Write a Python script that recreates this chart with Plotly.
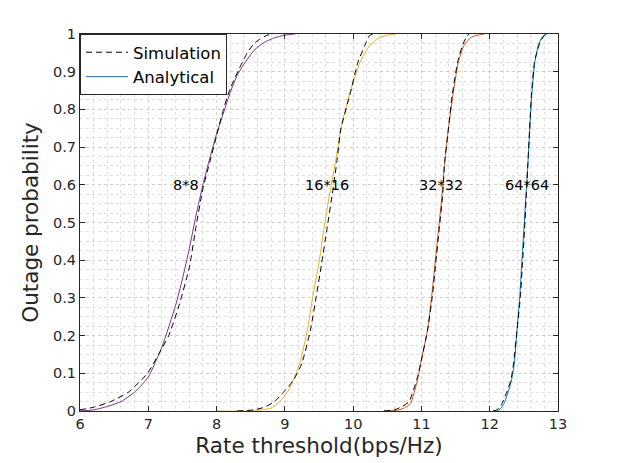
import plotly.graph_objects as go

# 8*8
ana8_x = [6.0, 6.2, 6.4, 6.6, 6.8, 7.0, 7.2, 7.4, 7.5, 7.6, 7.7, 7.8, 7.9, 8.0, 8.1, 8.2, 8.3, 8.4, 8.55, 8.7, 8.85, 9.0, 9.15]
ana8_y = [0.0, 0.003, 0.012, 0.025, 0.05, 0.09, 0.17, 0.28, 0.35, 0.43, 0.52, 0.6, 0.67, 0.735, 0.79, 0.845, 0.89, 0.92, 0.957, 0.978, 0.99, 0.997, 1.0]
sim8_x = [6.0, 6.2, 6.45, 6.71, 6.99, 7.15, 7.3, 7.45, 7.6, 7.7, 7.8, 7.9, 8.0, 8.1, 8.2, 8.35, 8.45, 8.55, 8.64, 8.72, 8.8]
sim8_y = [0.003, 0.01, 0.025, 0.05, 0.10, 0.15, 0.20, 0.28, 0.38, 0.49, 0.59, 0.66, 0.73, 0.80, 0.855, 0.915, 0.95, 0.975, 0.987, 0.995, 1.0]

# 16*16
ana16_x = [8.0, 8.5, 8.7, 8.8, 8.9, 9.06, 9.22, 9.33, 9.41, 9.50, 9.57, 9.65, 9.74, 9.82, 9.94, 10.10, 10.24, 10.36, 10.48, 10.62]
ana16_y = [0.0, 0.0, 0.004, 0.008, 0.02, 0.056, 0.127, 0.215, 0.304, 0.393, 0.481, 0.57, 0.659, 0.748, 0.837, 0.925, 0.969, 0.988, 0.996, 1.0]
sim16_x = [8.3, 8.55, 8.7, 8.85, 9.01, 9.12, 9.25, 9.375, 9.46, 9.54, 9.615, 9.69, 9.76, 9.82, 9.95, 10.07, 10.17, 10.24, 10.3]
sim16_y = [0.0, 0.003, 0.01, 0.025, 0.056, 0.08, 0.127, 0.215, 0.304, 0.393, 0.481, 0.57, 0.659, 0.748, 0.837, 0.925, 0.969, 0.996, 1.0]

# 32*32
ana32_x = [10.45, 10.65, 10.75, 10.84, 10.94, 10.99, 11.09, 11.15, 11.20, 11.25, 11.30, 11.34, 11.395, 11.46, 11.54, 11.62, 11.72, 11.80, 11.92]
ana32_y = [0.0, 0.002, 0.008, 0.02, 0.08, 0.127, 0.215, 0.304, 0.393, 0.481, 0.57, 0.659, 0.748, 0.837, 0.925, 0.969, 0.99, 0.996, 1.0]
sim32_x = [10.45, 10.6, 10.72, 10.82, 10.93, 10.99, 11.09, 11.16, 11.21, 11.26, 11.31, 11.34, 11.395, 11.45, 11.53, 11.60, 11.67, 11.7]
sim32_y = [0.0, 0.003, 0.012, 0.025, 0.082, 0.127, 0.215, 0.304, 0.393, 0.481, 0.57, 0.659, 0.748, 0.837, 0.925, 0.969, 0.996, 1.0]

# 64*64
ana64_x = [12.05, 12.11, 12.16, 12.21, 12.27, 12.32, 12.36, 12.40, 12.44, 12.47, 12.50, 12.53, 12.56, 12.585, 12.615, 12.66, 12.71, 12.76, 12.795, 12.84]
ana64_y = [0.0, 0.0, 0.006, 0.02, 0.05, 0.082, 0.127, 0.215, 0.304, 0.393, 0.481, 0.57, 0.659, 0.748, 0.837, 0.925, 0.969, 0.99, 0.996, 1.0]
sim64_x = [12.05, 12.09, 12.14, 12.18, 12.25, 12.31, 12.35, 12.40, 12.45, 12.48, 12.51, 12.535, 12.56, 12.585, 12.61, 12.655, 12.72, 12.795, 12.83]
sim64_y = [0.0, 0.002, 0.008, 0.02, 0.05, 0.082, 0.127, 0.215, 0.304, 0.393, 0.481, 0.57, 0.659, 0.748, 0.837, 0.925, 0.969, 0.996, 1.0]

labels = ["8*8", "16*16", "32*32", "64*64"]
label_x = [7.55, 9.62, 11.28, 12.54]
label_y = [0.6, 0.6, 0.6, 0.6]

x_ticks = [6, 7, 8, 9, 10, 11, 12, 13]
y_ticks = [0, 0.1, 0.2, 0.3, 0.4, 0.5, 0.6, 0.7, 0.8, 0.9, 1]
y_ticktext = ["0", "0.1", "0.2", "0.3", "0.4", "0.5", "0.6", "0.7", "0.8", "0.9", "1"]

# plotted in matlab order: 64 gets colour 1, etc.
groups = [
    (sim64_x, sim64_y, ana64_x, ana64_y, "#0072BD"),
    (sim32_x, sim32_y, ana32_x, ana32_y, "#D95319"),
    (sim16_x, sim16_y, ana16_x, ana16_y, "#EDB120"),
    (sim8_x, sim8_y, ana8_x, ana8_y, "#7E2F8E"),
]

FONT = "DejaVu Sans"
INK = "#262626"

fig = go.Figure()
for i, (sx, sy, ax, ay, color) in enumerate(groups):
    fig.add_trace(go.Scatter(x=ax, y=ay, mode="lines", name="Analytical",
                             line=dict(color=color, width=1, shape="spline", smoothing=0.5),
                             showlegend=(i == 0), legendrank=2))
    fig.add_trace(go.Scatter(x=sx, y=sy, mode="lines", name="Simulation",
                             line=dict(color="black", width=1, dash="6px,4px", shape="spline", smoothing=0.5),
                             showlegend=(i == 0), legendrank=1))

for t, x, y in zip(labels, label_x, label_y):
    fig.add_annotation(x=x, y=y, text=t, showarrow=False,
                       font=dict(family=FONT, size=14.5, color="black"))

axis_common = dict(
    showline=True, linecolor=INK, linewidth=1, mirror="ticks",
    ticks="inside", ticklen=5, tickcolor=INK,
    showgrid=True, gridcolor="#d0d0d0", griddash="dot", gridwidth=1,
    zeroline=False,
    tickfont=dict(family=FONT, size=14.5, color=INK),
)

fig.update_xaxes(
    range=[6, 13], tickvals=x_ticks,
    title=dict(text="Rate threshold(bps/Hz)", font=dict(family=FONT, size=21.5, color=INK), standoff=6),
    minor=dict(dtick=0.2, showgrid=True, gridcolor="#e0e0e0", griddash="dot", gridwidth=1, ticks=""),
    **axis_common,
)
fig.update_yaxes(
    range=[0, 1], tickvals=y_ticks, ticktext=y_ticktext,
    title=dict(text="Outage probability", font=dict(family=FONT, size=21.5, color=INK), standoff=8),
    minor=dict(dtick=0.025, showgrid=True, gridcolor="#e0e0e0", griddash="dot", gridwidth=1, ticks=""),
    **axis_common,
)

# body margin of the page pushes the plot by ~8px, so margins are offset
fig.update_layout(
    width=618, height=463,
    margin=dict(l=72, r=68, t=26, b=60),
    plot_bgcolor="white", paper_bgcolor="white",
    legend=dict(x=0, y=1, xanchor="left", yanchor="top",
                bgcolor="white", bordercolor=INK, borderwidth=1,
                font=dict(family=FONT, size=16.5, color="black"),
                tracegroupgap=0, itemwidth=42),
)

fig.write_html("out.html")
